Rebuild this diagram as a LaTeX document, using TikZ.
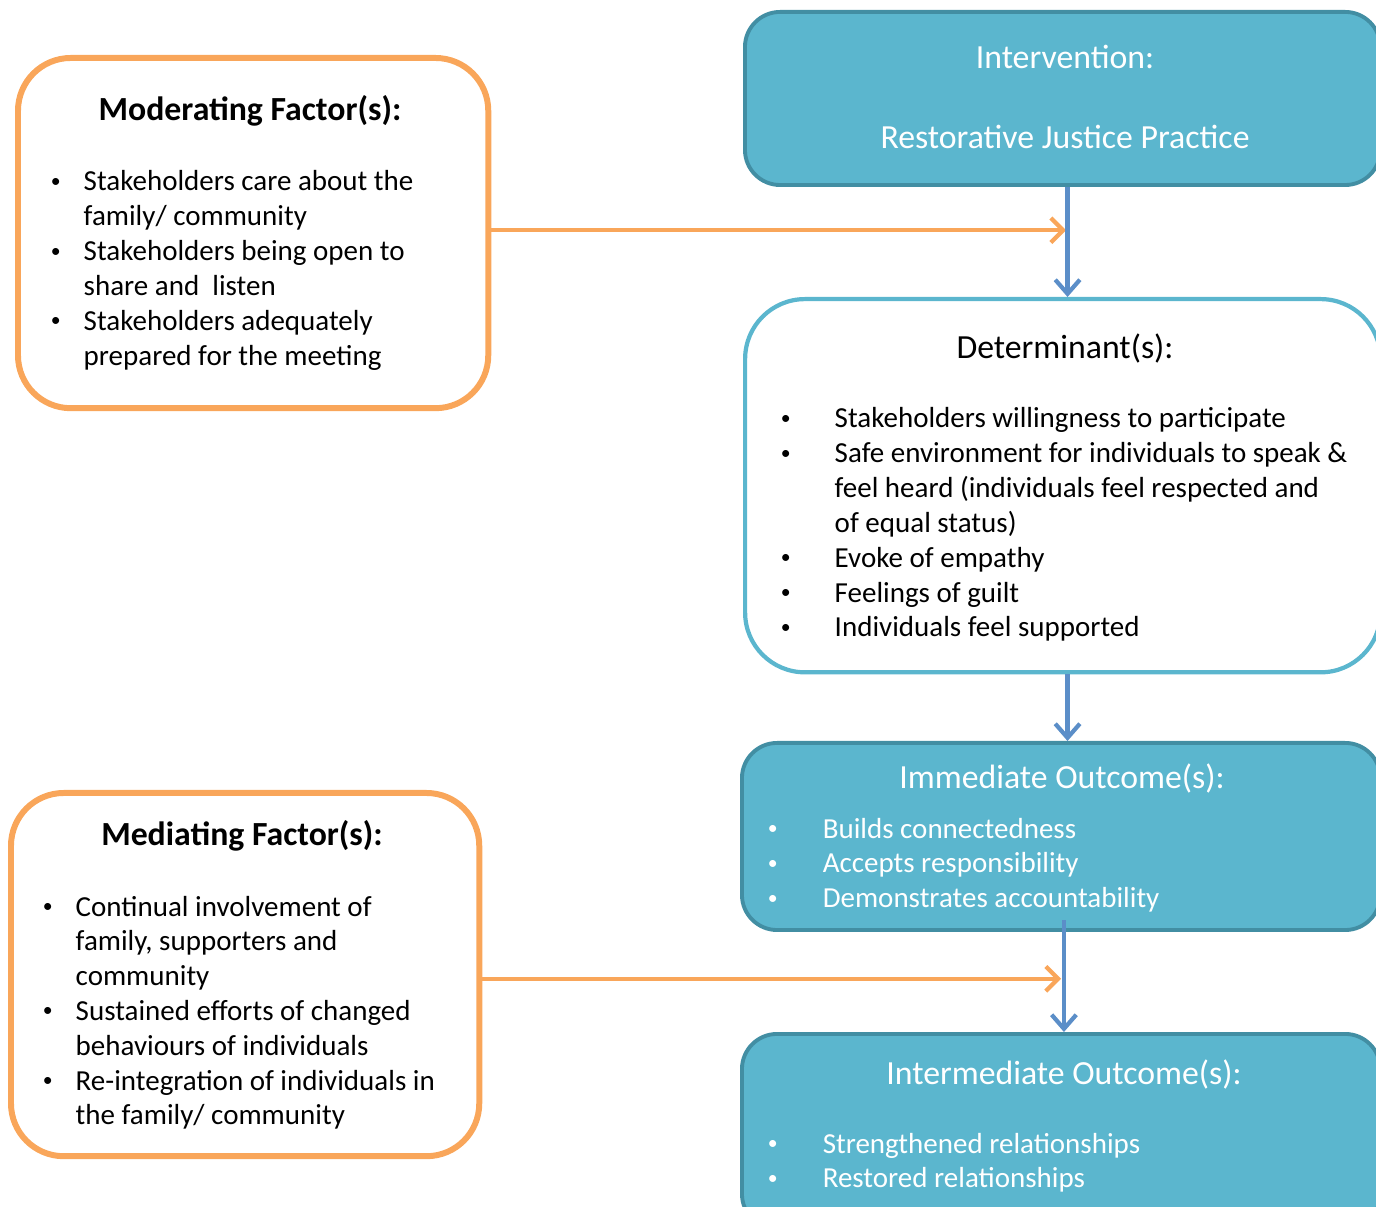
\documentclass[tikz,border=0pt]{standalone}
\usepackage{fontspec}
\setmainfont{Carlito}
\usetikzlibrary{arrows.meta, positioning, calc}
\definecolor{rjora}{HTML}{F9A65A}
\definecolor{rjfill}{HTML}{5BB6CE}
\definecolor{rjedge}{HTML}{428EA3}
\definecolor{rjblue}{HTML}{5B8EC8}
\tikzset{
  obox/.style={draw=rjora, line width=1.7pt, rounded corners=15pt, anchor=north west, inner sep=0pt},
  fbox/.style={draw=rjedge, fill=rjfill, line width=1.1pt, rounded corners=10pt, anchor=north west, inner sep=0pt},
  wbox/.style={draw=rjfill, line width=1.2pt, rounded corners=17pt, anchor=north west, inner sep=0pt},
  barr/.style={-{Straight Barb[length=4pt, width=7pt]}, rjblue, line width=1.2pt},
  oarr/.style={-{Straight Barb[length=3.5pt, width=7pt]}, rjora, line width=1.2pt},
  body/.style={font=\fontsize{8.25}{9.9}\selectfont, inner sep=0pt, anchor=base west},
  ttl/.style={font=\fontsize{9.6}{11.5}\selectfont, inner sep=0pt, anchor=base},
  bttl/.style={ttl, font=\fontsize{9.6}{11.5}\selectfont\bfseries}
}
\newcommand{\blist}[2]{\begin{tabular}[t]{@{}p{#1}@{}l@{}}#2\end{tabular}}
\newcommand{\bdot}{\hspace{0.6pt}\raisebox{0.25ex}{\fontsize{5.6}{6}\selectfont\textbullet}}

\begin{document}
\begin{tikzpicture}[x=0.01cm, y=-0.01cm]
		\clip (0,0) rectangle (1376,1207);
		% boxes
		\node[obox, minimum width=4.70cm, minimum height=3.50cm] (mod) at (15,55) {};
		\node[obox, minimum width=4.68cm, minimum height=3.63cm] (med) at (8,790) {};
		\node[fbox, minimum width=6.35cm, minimum height=1.73cm] (int) at (743,10) {};
		\node[wbox, minimum width=6.35cm, minimum height=3.73cm] (det) at (743,297) {};
		\node[fbox, minimum width=6.38cm, minimum height=1.87cm] (imm) at (740,741) {};
		\node[fbox, minimum width=6.38cm, minimum height=1.95cm] (inm) at (740,1032) {};
		% texts
		\node[bttl] (modt) at (250,121) {Moderating Factor(s):};
		\node[body] (modl) at (48,191) {\blist{0.35cm}{%
			\bdot & Stakeholders care about the\\
			& family/ community\\
			\bdot & Stakeholders being open to\\
			& share and~ listen\\
			\bdot & Stakeholders adequately\\
			& prepared for the meeting}};
		\node[bttl] (medt) at (242,846) {Mediating Factor(s):};
		\node[body] (medl) at (40,916) {\blist{0.35cm}{%
			\bdot & Continual involvement of\\
			& family, supporters and\\
			& community\\
			\bdot & Sustained efforts of changed\\
			& behaviours of individuals\\
			\bdot & Re-integration of individuals in\\
			& the family/ community}};
		\node[ttl, white] (intt) at (1065,69) {Intervention:};
		\node[ttl, white] (intp) at (1065,149) {Restorative Justice Practice};
		\node[ttl] (dett) at (1065,359) {Determinant(s):};
		\node[body] (detl) at (778,428) {\blist{0.56cm}{%
			\bdot & Stakeholders willingness to participate\\
			\bdot & Safe environment for individuals to speak \&\\
			& feel heard (individuals feel respected and\\
			& of equal status)\\
			\bdot & Evoke of empathy\\
			\bdot & Feelings of guilt\\
			\bdot & Individuals feel supported}};
		\node[ttl, white] (immt) at (1062,789) {Immediate Outcome(s):};
		\node[body, white] (imml) at (765,838) {\blist{0.57cm}{%
			\bdot & Builds connectedness\\
			\bdot & Accepts responsibility\\
			\bdot & Demonstrates accountability}};
		\node[ttl, white] (inmt) at (1064,1084) {Intermediate Outcome(s):};
		\node[body, white] (inml) at (765,1153) {\blist{0.57cm}{%
			\bdot & Strengthened relationships\\
			\bdot & Restored relationships}};
		% connectors
		\draw[oarr] ([yshift=0.8pt]mod.east) -- ([xshift=1pt, yshift=0.8pt]mod.east -| int.south);
		\draw[oarr] ([yshift=-1.2pt]med.east) -- ([yshift=-1.2pt]med.east -| imm.south);
		\draw[barr] ([xshift=1.4pt]int.south) -- ([xshift=1.4pt]int.south |- det.north);
		\draw[barr] ([xshift=1.4pt]int.south |- det.south) -- ([xshift=1.4pt]int.south |- imm.north);
		\draw[barr] ([xshift=0.8pt, yshift=3.4pt]imm.south) -- ([xshift=0.8pt]imm.south |- inm.north);
	\end{tikzpicture}
\end{document}
